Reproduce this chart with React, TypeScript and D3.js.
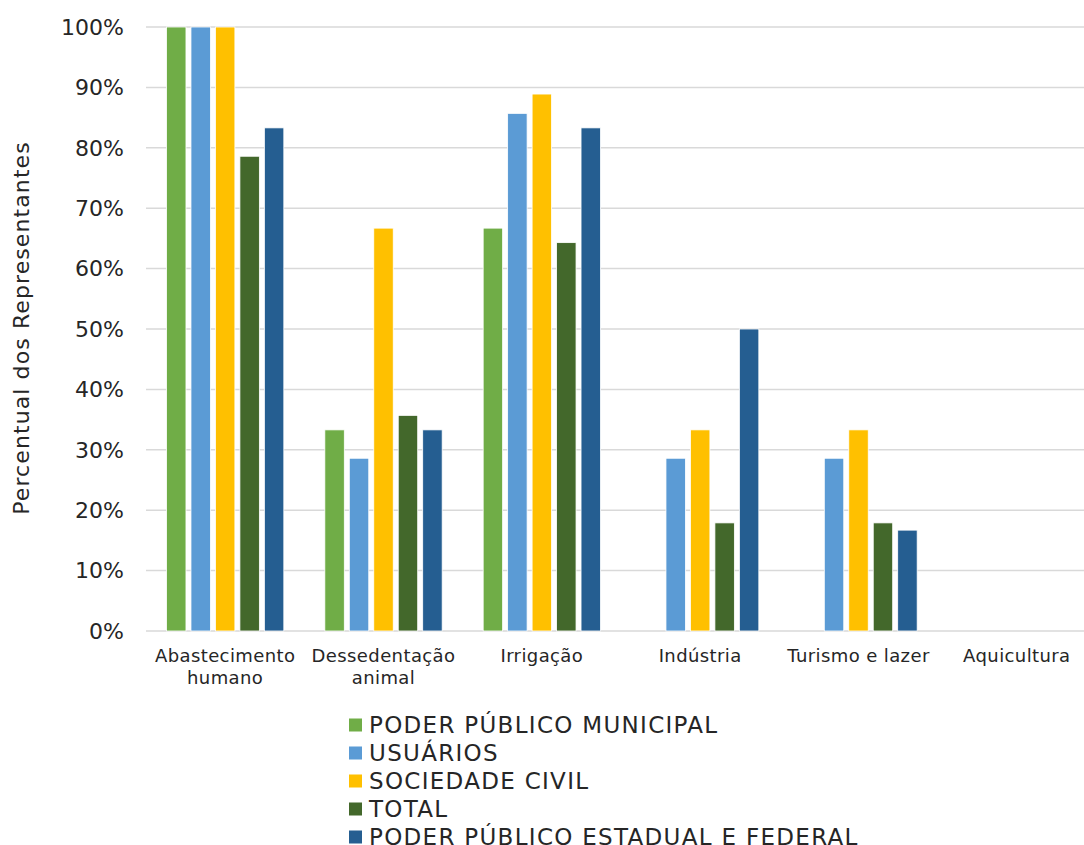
import React from "react";
import * as d3 from "d3";

const categories = [
  ["Abastecimento", "humano"],
  ["Dessedentação", "animal"],
  ["Irrigação"],
  ["Indústria"],
  ["Turismo e lazer"],
  ["Aquicultura"],
];
const seriesNames = [
  "PODER PÚBLICO MUNICIPAL",
  "USUÁRIOS",
  "SOCIEDADE CIVIL",
  "TOTAL",
  "PODER PÚBLICO ESTADUAL E FEDERAL",
];
const seriesColors = ["#70AD47", "#5B9BD5", "#FFC000", "#43682B", "#255E91"];
const poderMunicipal = [1.0, 0.333, 0.667, 0, 0, 0];
const usuarios = [1.0, 0.286, 0.857, 0.286, 0.286, 0];
const sociedadeCivil = [1.0, 0.667, 0.889, 0.333, 0.333, 0];
const total = [0.786, 0.357, 0.643, 0.179, 0.179, 0];
const poderEstadual = [0.833, 0.333, 0.833, 0.5, 0.167, 0];
const yTicks = [0, 0.1, 0.2, 0.3, 0.4, 0.5, 0.6, 0.7, 0.8, 0.9, 1.0];

const values = [poderMunicipal, usuarios, sociedadeCivil, total, poderEstadual];
const FONT = "'DejaVu Sans', sans-serif";

export default function App() {
  const W = 1084, H = 845;
  const x0 = 146, x1 = 1096, yTop = 27, yBot = 631;
  const x = d3.scaleBand<number>().domain(d3.range(categories.length)).range([x0, x1]).padding(0);
  const inner = d3.scaleBand<number>().domain(d3.range(seriesNames.length)).range([18, x.bandwidth() - 18]).padding(0);
  const y = d3.scaleLinear().domain([0, 1]).range([yBot, yTop]);
  const fmt = d3.format(".0%");
  return (
    <svg width={W} height={H} style={{ position: "absolute", left: 0, top: 0, background: "#fff" }}>
      {yTicks.map((t) => (
        <g key={t}>
          <line x1={x0} x2={W} y1={y(t)} y2={y(t)} stroke="#d9d9d9" strokeWidth={1.5} />
          <text x={124} y={y(t)} dy="0.35em" textAnchor="end" fontFamily={FONT} fontSize={22} fill="#262626">
            {fmt(t)}
          </text>
        </g>
      ))}
      {values.map((vals, s) =>
        vals.map((v, c) => {
          const bx = (x(c) as number) + (inner(s) as number) + 2.5;
          const bw = inner.bandwidth() - 5;
          if (v <= 0) return null;
          return (
            <rect key={`${s}-${c}`} x={bx} y={y(v)} width={bw} height={yBot - y(v)}
              fill={seriesColors[s]} stroke="#fff" strokeWidth={0.8} />
          );
        })
      )}
      {categories.map((lines, c) => (
        <text key={c} x={(x(c) as number) + x.bandwidth() / 2} y={662} textAnchor="middle"
          fontFamily={FONT} fontSize={18} letterSpacing={0.4} fill="#262626">
          {lines.map((l, i) => (
            <tspan key={i} x={(x(c) as number) + x.bandwidth() / 2} dy={i === 0 ? 0 : 22}>{l}</tspan>
          ))}
        </text>
      ))}
      <text transform={`translate(29, 328) rotate(-90)`} textAnchor="middle" fontFamily={FONT} fontSize={22}
        letterSpacing={1.1} fill="#262626">
        Percentual dos Representantes
      </text>
      {seriesNames.map((n, i) => (
        <g key={n} transform={`translate(349, ${725 + i * 28})`}>
          <rect x={0} y={-6.5} width={13} height={13} fill={seriesColors[i]} />
          <text x={20} y={0} dy="0.36em" fontFamily={FONT} fontSize={23} letterSpacing={1.3} fill="#262626">{n}</text>
        </g>
      ))}
    </svg>
  );
}
